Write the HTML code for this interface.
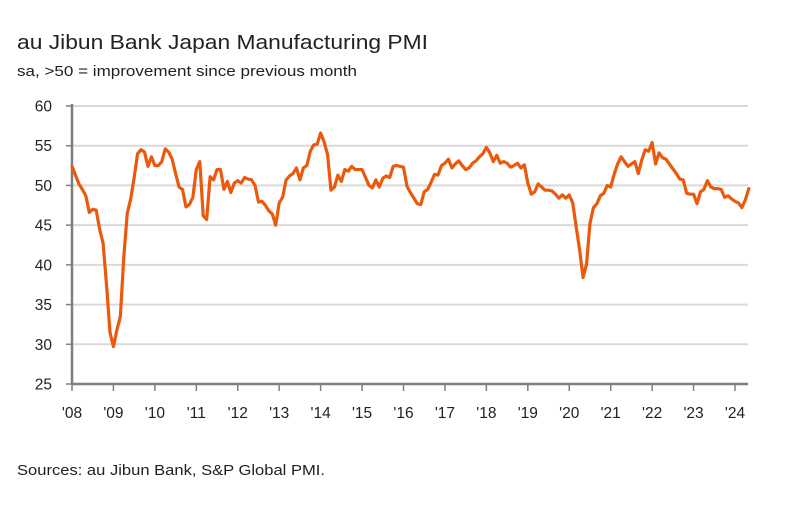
<!DOCTYPE html>
<html><head><meta charset="utf-8">
<style>
body{margin:0;background:#fff;width:785px;height:510px;overflow:hidden;font-family:"Liberation Sans",sans-serif;}
</style></head>
<body>
<svg id="chart" width="785" height="510" xmlns="http://www.w3.org/2000/svg" font-family="Liberation Sans, sans-serif">
<text x="17" y="49" font-size="20.5" fill="#222" textLength="411" lengthAdjust="spacingAndGlyphs">au Jibun Bank Japan Manufacturing PMI</text>
<text x="17" y="76" font-size="14.5" fill="#222" textLength="340" lengthAdjust="spacingAndGlyphs">sa, &gt;50 = improvement since previous month</text>
<text x="17" y="475" font-size="14.5" fill="#222" textLength="308" lengthAdjust="spacingAndGlyphs">Sources: au Jibun Bank, S&amp;P Global PMI.</text>
<g id="grid"></g><g id="axes"></g><g id="series"></g>
</svg>
<script>
const yTicks = [25,30,35,40,45,50,55,60];
const xTickLabels = ["'08","'09","'10","'11","'12","'13","'14","'15","'16","'17","'18","'19","'20","'21","'22","'23","'24"];
const startYear = 2008;
const pmi2008 = [52.4,51.3,50.2,49.5,48.7,46.6,47.0,46.9,44.5,42.7,37.5,31.5];
const pmi2009 = [29.7,31.8,33.5,41,46.5,48.3,51,54,54.5,54.2,52.4,53.6];
const pmi2010 = [52.5,52.5,53,54.6,54.2,53.3,51.5,49.8,49.5,47.3,47.6,48.5];
const pmi2011 = [52,53,46.2,45.7,51.1,50.7,52,52,49.5,50.5,49.1,50.3];
const pmi2012 = [50.6,50.3,51,50.8,50.7,50,47.9,48,47.5,46.8,46.4,45];
const pmi2013 = [47.8,48.5,50.7,51.2,51.5,52.2,50.7,52.2,52.5,54.3,55.1,55.2];
const pmi2014 = [56.6,55.5,53.9,49.4,49.8,51.3,50.5,52,51.8,52.4,52,52];
const pmi2015 = [52,51,50,49.7,50.7,49.8,50.9,51.2,51,52.4,52.5,52.4];
const pmi2016 = [52.3,49.9,49.1,48.4,47.7,47.6,49.2,49.5,50.4,51.4,51.3,52.5];
const pmi2017 = [52.8,53.3,52.2,52.7,53.1,52.5,52,52.2,52.8,53.1,53.6,54];
const pmi2018 = [54.8,54.1,53,53.8,52.8,53,52.8,52.3,52.5,52.8,52.2,52.6];
const pmi2019 = [50.3,48.9,49.2,50.2,49.8,49.4,49.4,49.3,48.9,48.4,48.8,48.4];
const pmi2020 = [48.8,47.8,44.8,41.9,38.4,40.1,45.2,47.2,47.7,48.7,49,50];
const pmi2021 = [49.8,51.4,52.7,53.6,53,52.4,52.7,53,51.5,53.2,54.5,54.3];
const pmi2022 = [55.4,52.7,54.1,53.5,53.3,52.7,52.1,51.5,50.8,50.7,49,48.9];
const pmi2023 = [48.9,47.7,49.2,49.5,50.6,49.8,49.6,49.6,49.5,48.5,48.7,48.3];
const pmi2024 = [48,47.8,47.2,48.2,49.6];
const values = [].concat(pmi2008,pmi2009,pmi2010,pmi2011,pmi2012,pmi2013,pmi2014,pmi2015,pmi2016,pmi2017,pmi2018,pmi2019,pmi2020,pmi2021,pmi2022,pmi2023,pmi2024);

const X0=72, X1=748, Y0=384, Y1=106, YMIN=25, YMAX=60, MONTHPX=(735-72)/192;
function xScale(m){return X0+m*MONTHPX;}
function yScale(v){return Y0-(v-YMIN)/(YMAX-YMIN)*(Y0-Y1);}
const NS="http://www.w3.org/2000/svg";
function mk(tag,attrs,parent){const e=document.createElementNS(NS,tag);for(const k in attrs)e.setAttribute(k,attrs[k]);parent.appendChild(e);return e;}
const grid=document.getElementById('grid'), axes=document.getElementById('axes'), series=document.getElementById('series');

yTicks.forEach(t=>{
  const y=yScale(t);
  if(t>YMIN){const g=mk('line',{x1:X0,x2:X1,y1:y,y2:y,stroke:'#d9d9d9','stroke-width':2},grid);
  
  }
  const tk=mk('line',{x1:X0-6,x2:X0,y1:y,y2:y,stroke:'#7f7f7f','stroke-width':1.5},axes);
  
  
  const lb=mk('text',{x:52,y:y+5.5,'text-anchor':'end','font-size':15.5,fill:'#222'},axes);
  lb.textContent=t;
  
  
});
const ya=mk('line',{x1:X0,x2:X0,y1:Y1-2,y2:Y0,stroke:'#7f7f7f','stroke-width':2.5},axes);


const xa=mk('line',{x1:X0,x2:X1,y1:Y0,y2:Y0,stroke:'#7f7f7f','stroke-width':2.5},axes);


xTickLabels.forEach((l,i)=>{
  const x=xScale(i*12);
  const tk=mk('line',{x1:x,x2:x,y1:Y0,y2:Y0+7,stroke:'#7f7f7f','stroke-width':1.5},axes);
  
  
  const lb=mk('text',{x:x,y:418,'text-anchor':'middle','font-size':15.5,fill:'#222'},axes);
  lb.textContent=l;
  
  
});
const d=values.map((v,i)=>(i?'L':'M')+xScale(i).toFixed(2)+','+yScale(v).toFixed(2)).join(' ');
const p=mk('path',{d:d,fill:'none',stroke:'#eb5a0c','stroke-width':3.2,'stroke-linejoin':'round','stroke-linecap':'round'},series);


</script>
</body></html>
